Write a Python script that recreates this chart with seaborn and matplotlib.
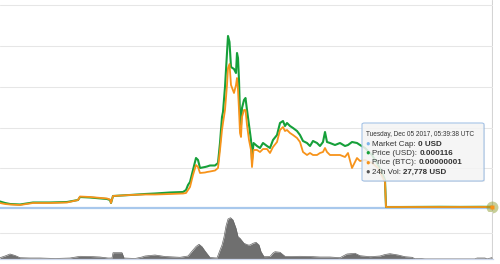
import matplotlib
matplotlib.use("Agg")
import matplotlib.pyplot as plt
import seaborn as sns
import pandas as pd
from matplotlib.patches import FancyBboxPatch

# ---------------- data ----------------
days = [0, 2.5, 5, 10, 16.5, 25, 33.5, 39, 40, 45, 53.5, 55, 55.5, 56.5, 65, 72.5,
        77.5, 85, 91.5, 93, 94, 95, 96.5, 98, 99, 100, 102.5, 103.5, 105, 107.5,
        109, 110, 111, 111.5, 112.5, 113.5, 114, 114.75, 115.5, 117, 118, 118.5,
        119, 119.5, 120, 120.5, 121, 122, 122.75, 123.5, 124.5, 125.5, 126, 126.75,
        128.5, 130, 131.5, 133.5, 135, 136.5, 138.5, 140, 141.5, 142.5, 143.5, 145,
        146.5, 148.5, 150, 151.5, 153.5, 155, 156.5, 158.5, 160, 161.5, 162.5,
        163.5, 165, 167.5, 170, 172.5, 174, 176, 178.5, 180, 182.5, 186, 189,
        191.5, 192.5, 193, 200, 210, 220, 230, 240, 246]

price_usd_milli = [0.65, 0.50, 0.40, 0.35, 0.55, 0.55, 0.60, 0.80, 1.10, 1.05, 0.90,
                   0.80, 0.50, 1.20, 1.30, 1.40, 1.45, 1.55, 1.60, 1.80, 2.30, 2.60,
                   3.80, 5.00, 4.80, 4.00, 4.10, 4.15, 4.25, 4.25, 4.50, 6.50, 9.10,
                   9.60, 12.10, 15.50, 17.20, 16.60, 14.10, 13.90, 13.50, 15.50, 15.00,
                   12.80, 9.30, 8.30, 10.00, 10.80, 11.00, 9.80, 8.30, 6.80, 4.80, 6.50,
                   6.20, 6.00, 6.50, 6.20, 6.00, 6.80, 7.30, 8.50, 8.70, 8.20, 8.50,
                   8.20, 8.00, 7.70, 7.30, 6.70, 6.50, 6.20, 6.70, 6.50, 6.20, 6.60,
                   7.60, 6.60, 6.50, 6.30, 6.50, 6.20, 6.30, 6.60, 6.50, 6.30, 6.00,
                   5.30, 4.30, 3.30, 2.80, 0.10, 0.10, 0.11, 0.12, 0.11, 0.12, 0.116]

price_btc_micro = [0.050, 0.040, 0.035, 0.030, 0.050, 0.050, 0.055, 0.080, 0.115,
                   0.110, 0.095, 0.085, 0.050, 0.120, 0.130, 0.135, 0.135, 0.140,
                   0.145, 0.150, 0.180, 0.210, 0.330, 0.430, 0.410, 0.350, 0.355,
                   0.360, 0.365, 0.375, 0.400, 0.580, 0.780, 0.850, 0.980, 1.230,
                   1.400, 1.440, 1.230, 1.150, 1.230, 1.300, 1.180, 0.980, 0.750,
                   0.710, 0.910, 0.980, 0.980, 0.830, 0.680, 0.580, 0.410, 0.580,
                   0.580, 0.560, 0.590, 0.590, 0.550, 0.610, 0.660, 0.780, 0.810,
                   0.770, 0.780, 0.750, 0.730, 0.700, 0.660, 0.560, 0.530, 0.550,
                   0.530, 0.530, 0.550, 0.560, 0.600, 0.560, 0.530, 0.530, 0.530,
                   0.510, 0.550, 0.400, 0.500, 0.470, 0.480, 0.450, 0.400, 0.300,
                   0.260, 0.010, 0.010, 0.010, 0.010, 0.010, 0.010, 0.010]

market_cap_usd = [0] * len(days)

vol_days = [0, 2.5, 5, 7.5, 10, 15, 20, 27.5, 35, 40, 45, 50, 54, 56, 56.5, 61, 62,
            67.5, 71, 72.5, 77.5, 82.5, 90, 94, 96.5, 98, 99.5, 101, 102.5, 105,
            108.5, 110, 111, 112, 113, 114, 115.25, 116.5, 118, 119, 120, 122, 124,
            125, 126.5, 128, 129.5, 130.5, 132, 135, 136.5, 137.5, 140, 142.5, 145,
            150, 155, 160, 165, 170, 172.5, 173.5, 177.5, 180, 185, 190, 192.5,
            195, 199, 202.5, 206, 207.5, 210, 212.5, 237.5, 238.5, 242.5, 243.5, 246]
vol_kusd = [26, 60, 100, 70, 26, 20, 20, 10, 20, 54, 50, 40, 20, 20, 126, 126, 20,
            10, 40, 60, 80, 50, 34, 60, 180, 250, 294, 246, 160, 30, 20, 180, 280,
            440, 660, 800, 826, 780, 614, 446, 414, 314, 280, 280, 314, 334, 280,
            146, 46, 50, 120, 146, 134, 54, 50, 54, 50, 40, 40, 26, 80, 100, 114,
            66, 46, 60, 90, 106, 80, 46, 34, 6, 10, 2, 2, 20, 20, 2, 27.8]

grid_usd_milli = [0, 4.0, 8.0, 12.1, 16.2, 20.3]
grid_vol_k = [0, 520]
tick_days = [0.5, 31.5, 63.5, 96, 127.5, 159, 191, 218.5]

tooltip_date = "Tuesday, Dec 05 2017, 05:39:38 UTC"
tooltip_labels = ["Market Cap: ", "Price (USD): ", "Price (BTC): ", "24h Vol: "]
tooltip_values = ["0 USD", "0.000116", "0.00000001", "27,778 USD"]

# ---------------- style ----------------
sns.set_style("white")
plt.rcParams["font.family"] = ["Liberation Sans", "DejaVu Sans"]

GREEN = "#16a03a"
ORANGE = "#f7931a"
MCAP = "#a8c8ec"
VOL = "#6f6f6f"
GRID = "#e6e6e6"
AXIS = "#ccd6eb"
TXT = "#333333"

W, H = 500, 264
fig = plt.figure(figsize=(W / 100, H / 100), dpi=100)


def box(x0, y0, x1, y1):
    return [x0 / W, 1 - y1 / H, (x1 - x0) / W, (y1 - y0) / H]


ax = fig.add_axes(box(0, 0, 493, 211))
axb = ax.twinx()
axv = fig.add_axes(box(0, 212, 493, 259))

df = pd.DataFrame({"day": days, "usd": price_usd_milli,
                   "btc": price_btc_micro, "mcap": market_cap_usd})
vdf = pd.DataFrame({"day": vol_days, "vol": vol_kusd})

sns.lineplot(data=df, x="day", y="mcap", ax=ax, color=MCAP, lw=1.6,
             estimator=None, sort=False)
sns.lineplot(data=df, x="day", y="usd", ax=ax, color=GREEN, lw=1.5,
             estimator=None, sort=False)
sns.lineplot(data=df, x="day", y="btc", ax=axb, color=ORANGE, lw=1.3,
             estimator=None, sort=False)

# hovered point
last_day = days[-1]
axb.plot([last_day], [price_btc_micro[-1]], "o", ms=8.5, color=GREEN, alpha=0.3,
         mec="none", clip_on=False)
axb.plot([last_day], [price_btc_micro[-1]], "o", ms=8.5, color=ORANGE, alpha=0.25,
         mec="none", clip_on=False)
axb.plot([last_day], [price_btc_micro[-1]], "s", ms=3.3, color=ORANGE,
         mec="none", clip_on=False)

ax.set_xlim(0, 246.5)
ax.set_ylim(-0.3, 20.8)
axb.set_ylim(-0.03, 2.08)
ax.set_yticks(grid_usd_milli)
ax.grid(axis="y", color=GRID, lw=0.75)
ax.grid(axis="x", visible=False)
ax.set_axisbelow(True)
for a in (ax, axb):
    a.tick_params(left=False, right=False, bottom=False,
                  labelleft=False, labelright=False, labelbottom=False)
    a.set_xlabel("")
    a.set_ylabel("")
    for s in a.spines.values():
        s.set_visible(False)
ax.axvline(last_day, color="#d4d4d4", lw=0.8, zorder=0)

# volume
axv.fill_between(vdf["day"], vdf["vol"], color=VOL, lw=0)
sns.lineplot(data=vdf, x="day", y="vol", ax=axv, color="#666666", lw=0.5,
             estimator=None, sort=False)
axv.set_xlim(0, 246.5)
axv.set_ylim(0, 940)
axv.set_yticks(grid_vol_k)
axv.grid(axis="y", color=GRID, lw=0.75)
axv.grid(axis="x", visible=False)
axv.set_axisbelow(True)
axv.set_xticks(tick_days)
axv.tick_params(axis="x", length=3.6, width=0.75, color=AXIS, direction="out",
                labelbottom=False)
axv.tick_params(axis="y", left=False, labelleft=False)
axv.set_xlabel("")
axv.set_ylabel("")
for k, s in axv.spines.items():
    s.set_visible(k == "bottom")
axv.spines["bottom"].set_color(AXIS)
axv.spines["bottom"].set_linewidth(0.9)
axv.axvline(last_day, color="#d4d4d4", lw=0.8, zorder=0)

# ---------------- tooltip ----------------
shadow = FancyBboxPatch((363 / W, 1 - 182 / H), 122 / W, 58 / H,
                        boxstyle="round,pad=0,rounding_size=0.005",
                        transform=fig.transFigure, fc=(0, 0, 0, 0.08),
                        ec="none", zorder=4)
fig.add_artist(shadow)
tip = FancyBboxPatch((362 / W, 1 - 181 / H), 122 / W, 58 / H,
                     boxstyle="round,pad=0,rounding_size=0.005",
                     transform=fig.transFigure, fc=(0.97, 0.97, 0.97, 0.85),
                     ec="#a5c3e6", lw=0.8, zorder=5)
fig.add_artist(tip)

fig.text(366 / W, 1 - 134 / H, tooltip_date, fontsize=4.7, color=TXT,
         va="center", ha="left", zorder=6)
bullet_colors = ["#7cb5ec", GREEN, ORANGE, "#555555"]
row_y = [144, 153.5, 163, 172.5]
labels = []
for lab, col, yy in zip(tooltip_labels, bullet_colors, row_y):
    fig.text(365.5 / W, 1 - yy / H, "\u25CF", fontsize=5.5, color=col,
             va="center", ha="left", zorder=6)
    t = fig.text(372 / W, 1 - yy / H, lab, fontsize=5.75, color=TXT,
                 va="center", ha="left", zorder=6)
    labels.append(t)

fig.canvas.draw()
renderer = fig.canvas.get_renderer()
for t, val, yy in zip(labels, tooltip_values, row_y):
    bb = t.get_window_extent(renderer)
    fig.text(bb.x1 / W, 1 - yy / H, val, fontsize=5.75, color=TXT,
             fontweight="bold", va="center", ha="left", zorder=6)

fig.savefig("out.png", dpi=100)
